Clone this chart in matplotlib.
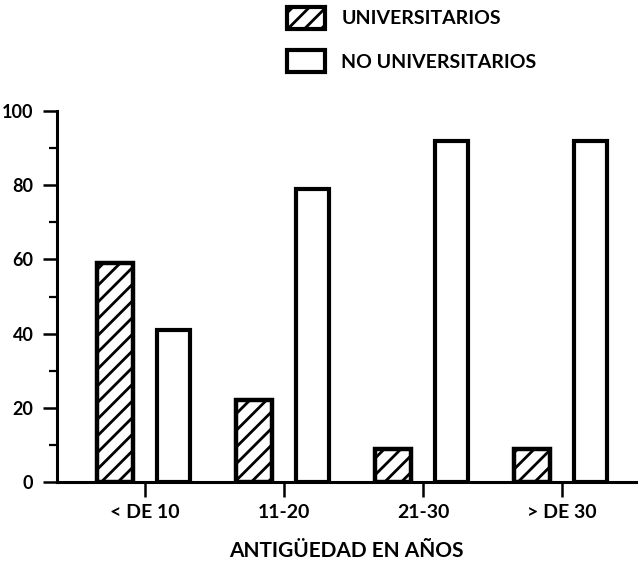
import matplotlib

matplotlib.use("Agg")
import matplotlib.pyplot as plt
import numpy as np
from matplotlib.patches import Patch

CATEGORIES = ["< DE 10", "11-20", "21-30", "> DE 30"]
UNIVERSITARIOS = [59, 22, 9, 9]
NO_UNIVERSITARIOS = [41, 79, 92, 92]
Y_TICKS = [0, 20, 40, 60, 80, 100]
Y_MINOR = [10, 30, 50, 70, 90]

plt.rcParams["font.family"] = ["Lato", "DejaVu Sans"]
plt.rcParams["font.weight"] = "bold"
plt.rcParams["axes.labelweight"] = "bold"
plt.rcParams["hatch.linewidth"] = 2.0


def main() -> None:
    fig = plt.figure(figsize=(6.39, 5.64), dpi=100)
    ax = fig.add_axes([57 / 639, 82 / 564, 579 / 639, 371 / 564])

    x = np.arange(len(CATEGORIES))
    ax.bar(x - 0.215, UNIVERSITARIOS, width=0.26, facecolor="white",
           edgecolor="black", linewidth=3.2, hatch="//", zorder=3)
    ax.bar(x + 0.205, NO_UNIVERSITARIOS, width=0.235, facecolor="white",
           edgecolor="black", linewidth=3, zorder=3)

    ax.set_xlim(-0.633, 3.53)
    ax.set_ylim(0, 100)
    ax.set_xticks(x)
    ax.set_xticklabels(CATEGORIES)
    ax.set_yticks(Y_TICKS)
    ax.set_yticks(Y_MINOR, minor=True)

    for side in ("top", "right"):
        ax.spines[side].set_visible(False)
    for side in ("left", "bottom"):
        ax.spines[side].set_linewidth(2.2)
    ax.tick_params(axis="y", which="major", direction="out", length=10,
                   width=1.8, pad=7, labelsize=13)
    ax.tick_params(axis="y", which="minor", direction="out", length=5.5,
                   width=1.6)
    ax.tick_params(axis="x", direction="out", length=11, width=1.8, pad=5,
                   labelsize=14)
    ax.set_xlabel("ANTIGÜEDAD EN AÑOS", fontsize=15, labelpad=14)

    handles = [
        Patch(facecolor="white", edgecolor="black", linewidth=3, hatch="//"),
        Patch(facecolor="white", edgecolor="black", linewidth=3),
    ]
    fig.legend(handles, ["UNIVERSITARIOS", "NO UNIVERSITARIOS"],
               loc="upper left", bbox_to_anchor=(287 / 639, 1 - 7 / 564),
               frameon=False, fontsize=14, handlelength=1.95, handleheight=1.35,
               handletextpad=0.85, labelspacing=1.1, borderpad=0,
               borderaxespad=0)

    fig.savefig("out.png", dpi=100)


if __name__ == "__main__":
    main()
